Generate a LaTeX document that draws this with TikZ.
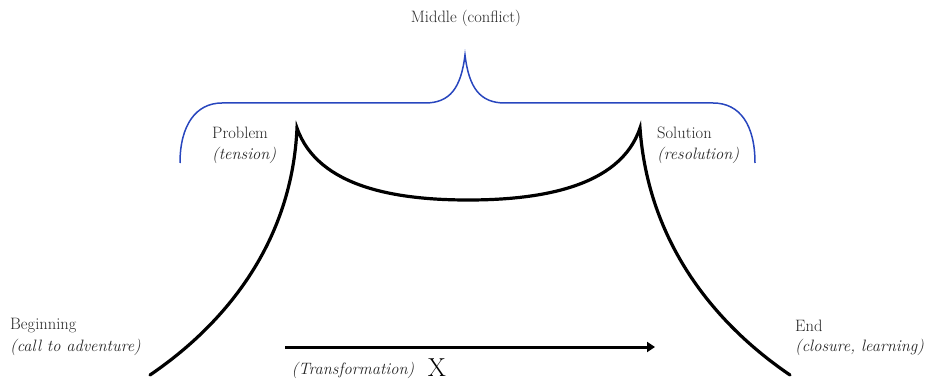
\documentclass[tikz,border=0pt]{standalone}
\usetikzlibrary{arrows.meta}
\definecolor{braceblue}{RGB}{40,70,190}
\begin{document}
\begin{tikzpicture}[x=1pt,y=-1pt,
  lbl/.style={inner sep=0pt, anchor=west, font=\fontsize{16.5}{18}\selectfont, text=black!85},
  ilbl/.style={lbl, font=\fontsize{16.5}{18}\selectfont\itshape},
  arc/.style={line width=3.2pt, black, line cap=round},
  bracestyle/.style={line width=1.5pt, braceblue}]
\useasboundingbox (0,0) rectangle (932,382);
% key points
\coordinate (b0) at (150,375);
\coordinate (pk) at (297,128);
\coordinate (mid) at (468,200);
\coordinate (sk) at (640,128);
\coordinate (e0) at (790,375);
\coordinate (bl) at (180,163);
\coordinate (br) at (755,163);
\coordinate (bc) at (465,55);
\coordinate (as) at (285,347);
\coordinate (ae) at (655,347);
% story arc
\draw[arc] (b0) .. controls (228,322) and (292,240) .. (pk)
  .. controls (318,188) and (398,200) .. (mid)
  .. controls (538,200) and (620,188) .. (sk)
  .. controls (648,240) and (712,322) .. (e0);
% brace
\draw[bracestyle] (bl) .. controls (180,125) and (196,103) .. (222,103) -- (425,103)
  .. controls (450,103) and (461,88) .. (bc)
  .. controls (469,88) and (480,103) .. (505,103) -- (713,103)
  .. controls (740,103) and (755,125) .. (br);
% arrow
\draw[line width=3pt, -{Triangle[length=8pt,width=10pt]}] (as) -- (ae);
% labels
\node[lbl, anchor=center] (middle) at (466,18) {Middle (conflict)};
\node[lbl] (problem) at (212,133) {Problem};
\node[ilbl] (tension) at (212,155) {(tension)};
\node[lbl] (solution) at (657,133) {Solution};
\node[ilbl] (resolution) at (657,155) {(resolution)};
\node[lbl] (beginning) at (10,326) {Beginning};
\node[ilbl] (call) at (10,347) {(call to adventure)};
\node[lbl] (end) at (795,326) {End};
\node[ilbl] (closure) at (795,347) {(closure, learning)};
\node[ilbl, anchor=center] (transf) at (353,370) {(Transformation)};
\node[lbl, anchor=center, font=\fontsize{26}{28}\selectfont, text=black] (x) at (437,368) {X};
\end{tikzpicture}
\end{document}
